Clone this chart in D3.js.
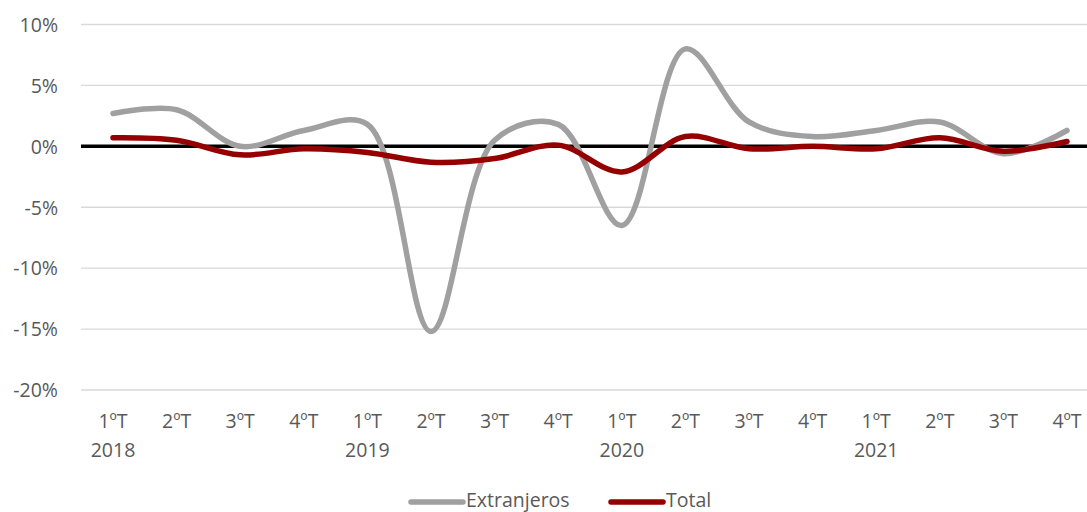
<!DOCTYPE html>
<html><head><meta charset="utf-8">
<script src="https://cdn.jsdelivr.net/npm/d3@7"></script>
<style>body{margin:0;background:#fff;} text{font-family:"Open Sans", sans-serif;}</style>
</head><body><svg id="c" width="1087" height="512"></svg>
<script>
const quarters = ["1ºT","2ºT","3ºT","4ºT","1ºT","2ºT","3ºT","4ºT","1ºT","2ºT","3ºT","4ºT","1ºT","2ºT","3ºT","4ºT"];
const years = ["2018","","","","2019","","","","2020","","","","2021","","",""];
const extranjeros = [2.7, 3.0, 0.0, 1.3, 1.8, -15.2, 0.5, 1.8, -6.5, 8.0, 2.0, 0.8, 1.3, 2.0, -0.6, 1.3];
const total = [0.7, 0.5, -0.7, -0.2, -0.5, -1.3, -1.0, 0.1, -2.1, 0.8, -0.2, 0.0, -0.2, 0.7, -0.4, 0.4];
const yTicks = [10, 5, 0, -5, -10, -15, -20];

const svg = d3.select("#c");
const idx = d3.range(quarters.length);
const x = d3.scalePoint().domain(idx).range([113, 1067]);
const y = d3.scaleLinear().domain([-20, 10]).range([390, 24.5]);
const left = 81, right = 1087;
const fs = "19.5px";

svg.append("g").selectAll("line").data(yTicks.filter(d => d !== 0)).join("line")
  .attr("x1", left).attr("x2", right).attr("y1", d => y(d)).attr("y2", d => y(d))
  .attr("stroke", "#d9d9d9").attr("stroke-width", 1.3);

const yAxis = d3.axisLeft(y).tickValues(yTicks).tickSize(0).tickPadding(0).tickFormat(d => d + "%");
svg.append("g").attr("transform", "translate(58,0)").call(yAxis)
  .call(g => g.select(".domain").remove())
  .selectAll("text").attr("fill", "#595959").style("font-size", fs).style("font-family", "'Open Sans', sans-serif").attr("dy", "0.35em");

svg.append("line").attr("x1", left).attr("x2", right).attr("y1", y(0)).attr("y2", y(0))
  .attr("stroke", "#000").attr("stroke-width", 3.5);

const xg = svg.append("g").attr("class", "xax");
xg.selectAll("text.q").data(idx).join("text").attr("class", "q")
  .attr("x", d => x(d)).attr("y", 428).attr("text-anchor", "middle")
  .attr("fill", "#595959").style("font-size", fs).text(d => quarters[d]);
xg.selectAll("text.yr").data(idx.filter(d => years[d])).join("text").attr("class", "yr")
  .attr("x", d => x(d)).attr("y", 457).attr("text-anchor", "middle")
  .attr("fill", "#595959").style("font-size", fs).text(d => years[d]);

const line = d3.line().x((d, i) => x(i)).y(d => y(d)).curve(d3.curveCatmullRom.alpha(0.5));
svg.append("path").datum(extranjeros).attr("d", line).attr("fill", "none")
  .attr("stroke", "#a0a0a0").attr("stroke-width", 5.5).attr("stroke-linecap", "round");
svg.append("path").datum(total).attr("d", line).attr("fill", "none")
  .attr("stroke", "#950000").attr("stroke-width", 5.5).attr("stroke-linecap", "round");

const legend = [{name: "Extranjeros", color: "#a0a0a0", x: 411}, {name: "Total", color: "#950000", x: 611}];
const lg = svg.append("g");
legend.forEach(l => {
  lg.append("line").attr("x1", l.x).attr("x2", l.x + 52).attr("y1", 502).attr("y2", 502)
    .attr("stroke", l.color).attr("stroke-width", 5.5).attr("stroke-linecap", "round");
  lg.append("text").attr("x", l.x + 55).attr("y", 507).attr("fill", "#595959")
    .style("font-size", fs).text(l.name);
});
</script></body></html>
